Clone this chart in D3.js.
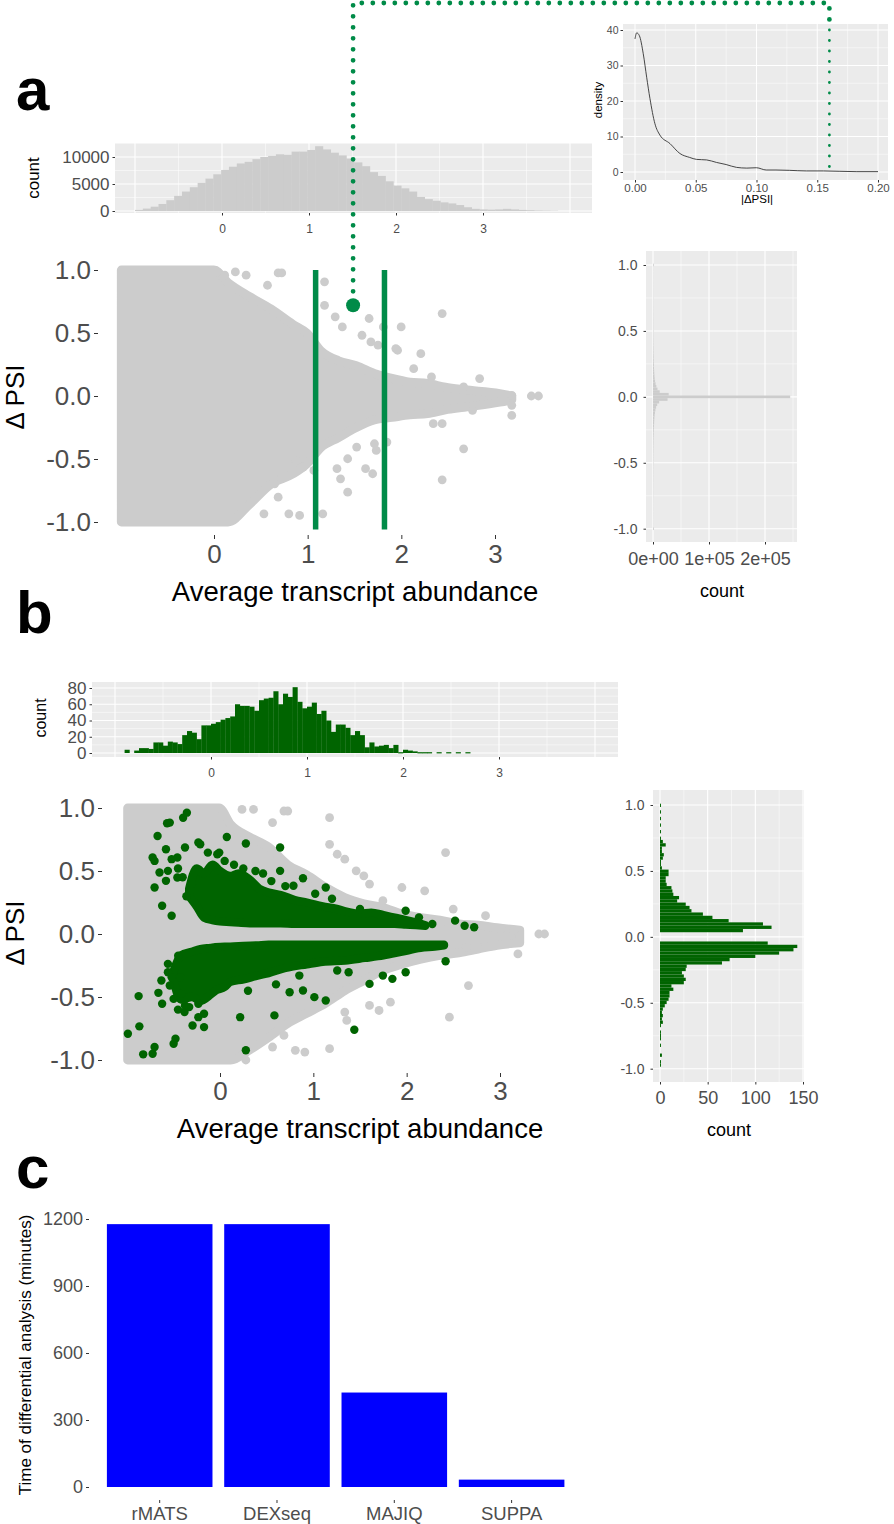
<!DOCTYPE html>
<html><head><meta charset="utf-8">
<script src="https://d3js.org/d3.v7.min.js"></script>
<style>html,body{margin:0;padding:0;background:#fff;}svg{display:block;}</style>
</head><body>
<script>
// ================= DATA =================
// Panel a – top marginal histogram (abundance), bin left edges, width 0.09
const histA_x0 = [-1.0,-0.91,-0.82,-0.73,-0.64,-0.55,-0.46,-0.37,-0.28,-0.19,-0.10,-0.01,0.08,0.17,0.26,0.35,0.44,0.53,0.62,0.71,0.80,0.89,0.98,1.07,1.16,1.25,1.34,1.43,1.52,1.61,1.70,1.79,1.88,1.97,2.06,2.15,2.24,2.33,2.42,2.51,2.60,2.69,2.78,2.87,2.96,3.05,3.14,3.23,3.32,3.41,3.50,3.59,3.68,3.77];
const histA_count = [200,450,800,1300,2000,2800,3600,4400,5200,6000,6800,7600,8200,8800,9100,9600,10000,10200,10500,10400,11000,11000,11300,12000,11400,10800,10300,9700,9000,8300,7200,6500,5500,4700,4200,3600,2600,2200,1900,1600,1400,1100,700,400,300,250,300,400,300,200,150,100,80,50];
const histA_binWidth = 0.09;
const histA_xTicks = [0,1,2,3];
const histA_yTicks = [0,5000,10000];

// Panel a – density inset of |ΔPSI|
const dens_x = [0.000,0.0014,0.0036,0.0068,0.0096,0.0123,0.0164,0.0205,0.0288,0.037,0.045,0.0507,0.059,0.067,0.075,0.0836,0.092,0.100,0.108,0.116,0.127,0.141,0.155,0.168,0.182,0.200];
const dens_y = [37.5,39.2,38.4,33.3,26.7,20.7,13.6,10.4,8.0,5.2,4.1,3.55,3.4,2.7,2.1,1.3,1.1,1.2,0.56,0.56,0.47,0.3,0.3,0.2,0.1,0.1];
const dens_xTicks = [0,0.05,0.10,0.15,0.20];
const dens_xLabels = ["0.00","0.05","0.10","0.15","0.20"];
const dens_yTicks = [0,10,20,30,40];
const dens_cutoff = 0.16;

// Panel a – main scatter: dense cloud envelope (x, upper, lower) + isolated points
const scatA_envX  = [-0.99,0.0,0.15,0.38,0.61,0.84,0.99,1.14,1.33,1.52,1.71,1.90,2.09,2.28,2.47,2.67,3.05,3.18];
const scatA_envUp = [1.0,1.0,0.90,0.79,0.69,0.57,0.50,0.36,0.28,0.24,0.18,0.14,0.11,0.10,0.07,0.05,0.02,0.0];
const scatA_envLo = [-1.0,-1.0,-1.0,-0.86,-0.70,-0.62,-0.54,-0.41,-0.33,-0.25,-0.19,-0.17,-0.15,-0.14,-0.11,-0.09,-0.05,-0.03];
const scatA_outX = [0.038,0.114,0.228,0.343,0.685,0.723,0.571,1.18,1.18,1.294,1.37,1.656,1.58,1.675,1.751,1.998,1.808,2.436,1.941,1.96,2.208,2.132,2.322,2.836,2.665,3.179,3.388,3.464,3.179,3.179,2.76,2.341,2.436,2.665,2.436,1.846,1.732,1.713,1.618,1.694,1.523,1.427,1.313,1.351,1.427,1.161,1.066,0.914,0.799,0.533,0.685,0.647,0.876,0.952];
const scatA_outY = [0.985,0.959,0.985,0.959,0.977,0.977,0.879,0.906,0.72,0.628,0.548,0.615,0.482,0.429,0.403,0.548,0.548,0.654,0.376,0.363,0.336,0.217,0.151,0.138,0.072,0.005,0,0,-0.074,-0.154,-0.114,-0.22,-0.22,-0.419,-0.665,-0.366,-0.432,-0.379,-0.577,-0.617,-0.405,-0.498,-0.577,-0.657,-0.763,-0.935,-0.591,-0.948,-0.935,-0.935,-0.803,-0.697,-0.511,-0.564];
const scatA_cutLines = [1.085,1.82];
const scatA_marker = {x:1.485, y:0.72};
const scat_xTicks = [0,1,2,3];
const scat_yTicks = [-1,-0.5,0,0.5,1];
const scat_yLabels = ["-1.0","-0.5","0.0","0.5","1.0"];

// Panel a – right marginal histogram of ΔPSI (bins of 0.02 from -1.00 to 1.00)
const histAR_count = [1500,
 500,520,480,510,530,540,520,560,550,580,570,600,590,620,610,640,650,660,680,690,700,720,740,760,
 780,800,830,860,900,940,980,1020,1080,
 1150,1250,1350,1450,1600,1750,
 1950,2200,2500,2900,3500,4300,5500,7500,11000,26000,
 245000,
 28000,12000,8000,6000,4600,3700,3000,2600,2200,2000,
 1800,1650,1500,1400,1300,1200,
 1100,1050,1000,950,900,860,820,790,760,
 740,720,700,690,680,660,650,640,620,610,600,590,570,560,550,540,530,520,510,500,500,490,480,470,
 1400];
const histAR_yStart = -1.0, histAR_binWidth = 0.02;
const histAR_xTicks = [0,100000,200000];
const histAR_xLabels = ["0e+00","1e+05","2e+05"];

// Panel b – top marginal histogram (significant events), bins of 0.05 starting at -0.9
const histB_count = [4,0,3,6,6,5,13,13,9,14,13,11,22,27,25,17,34,34,36,38,41,43,45,60,58,58,57,52,65,67,68,76,60,73,69,81,63,55,57,62,48,52,40,26,35,35,31,22,27,22,7,13,8,9,10,6,10,1,4,3,2,1,1,1,0,1,0,1,0,1,0,1];
const histB_start = -0.9, histB_binWidth = 0.05;
const histB_yTicks = [0,20,40,60,80];

// Panel b – main scatter: gray cloud envelope + isolated gray points
const scatB_envX  = [-0.99,-0.008,0.114,0.318,0.522,0.726,0.929,1.133,1.337,1.541,1.745,1.949,2.152,2.356,2.56,2.764,2.968,3.212];
const scatB_envUp = [1.0,1.0,0.87,0.77,0.69,0.55,0.47,0.37,0.29,0.24,0.21,0.16,0.13,0.11,0.08,0.07,0.05,0.03];
const scatB_envLo = [-1.0,-1.0,-1.0,-0.92,-0.82,-0.71,-0.63,-0.55,-0.45,-0.37,-0.29,-0.24,-0.20,-0.17,-0.15,-0.12,-0.09,-0.07];
const scatB_outX = [0.236,0.359,0.685,0.726,0.563,1.174,1.174,1.256,1.337,1.459,1.541,1.602,1.745,1.949,2.193,2.417,2.499,2.845,3.09,3.151,3.416,3.477,3.192,2.642,2.764,2.662,2.458,1.826,1.704,1.602,1.337,1.358,1.174,0.909,0.807,0.685,0.563,0.277];
const scatB_outY = [0.989,0.989,0.976,0.976,0.884,0.923,0.712,0.633,0.594,0.501,0.462,0.396,0.264,0.369,0.343,0.646,0.198,0.145,0.026,0.026,0,0,-0.158,-0.106,-0.106,-0.409,-0.660,-0.541,-0.607,-0.567,-0.620,-0.686,-0.910,-0.937,-0.923,-0.805,-0.897,-1.0];
// significant (green) events: dense arms + isolated points
const sigUp_x   = [-0.33,-0.25,-0.17,-0.08,0.0,0.11,0.2,0.32,0.42,0.52,0.65,0.8,0.93,1.1,1.25,1.34,1.5,1.62,1.75,1.87,1.99,2.1,2.2];
const sigUp_top = [0.36,0.52,0.48,0.55,0.50,0.46,0.48,0.43,0.36,0.33,0.31,0.27,0.25,0.22,0.20,0.18,0.16,0.17,0.15,0.13,0.11,0.09,0.07];
const sigUp_bot = [0.30,0.22,0.13,0.11,0.10,0.095,0.09,0.085,0.085,0.085,0.085,0.08,0.08,0.08,0.08,0.08,0.08,0.08,0.08,0.08,0.075,0.07,0.065];
const sigLo_x   = [-0.5,-0.42,-0.3,-0.21,-0.1,-0.05,0.05,0.11,0.25,0.4,0.52,0.7,0.93,1.1,1.34,1.55,1.75,1.95,2.15,2.3,2.4];
const sigLo_top = [-0.3,-0.17,-0.14,-0.12,-0.11,-0.105,-0.1,-0.1,-0.095,-0.09,-0.085,-0.085,-0.085,-0.085,-0.085,-0.085,-0.085,-0.085,-0.085,-0.085,-0.085];
const sigLo_bot = [-0.36,-0.52,-0.5,-0.53,-0.48,-0.45,-0.42,-0.38,-0.36,-0.33,-0.31,-0.27,-0.24,-0.22,-0.21,-0.19,-0.17,-0.14,-0.11,-0.1,-0.09];
const sigPts_x = [-0.987,-0.872,-0.864,-0.823,-0.722,-0.701,-0.660,-0.628,-0.620,-0.558,-0.558,-0.538,-0.518,-0.497,-0.477,-0.497,-0.448,-0.424,-0.416,-0.375,-0.294,-0.232,-0.171,-0.232,-0.171,0.216,0.277,0.583,0.746,0.889,1.011,1.133,1.439,1.602,1.745,1.847,2.417,1.989,1.378,1.256,
 -0.669,-0.567,-0.538,-0.395,-0.355,0.073,0.277,0.644,-0.722,-0.701,-0.579,-0.518,-0.457,-0.375,-0.232,-0.212,-0.130,-0.029,-0.008,-0.620,-0.518,-0.701,-0.579,-0.648,-0.558,-0.457,0.461,0.644,0.889,1.133,0.787,1.500,2.132,2.519,2.621,2.723,2.275,1.867,1.989,2.112,
 -0.40,-0.36,-0.30,-0.45,0.05,0.15,0.25,0.38,0.55,0.70,1.02,1.20,0.30,0.60,0.85,-0.38,-0.33,-0.45];
const sigPts_y = [-0.792,-0.493,-0.733,-0.955,-0.950,-0.897,-0.467,-0.369,-0.554,-0.237,-0.303,-0.409,-0.343,-0.515,-0.831,-0.871,-0.172,-0.343,-0.475,-0.567,-0.726,-0.554,-0.739,-0.660,-0.633,-0.660,-0.923,-0.646,-0.462,-0.449,-0.501,-0.528,-0.760,-0.396,-0.330,-0.356,-0.216,-0.303,-0.303,-0.290,
 0.778,0.879,0.884,0.923,0.963,0.770,0.718,0.686,0.607,0.580,0.673,0.594,0.607,0.686,0.726,0.712,0.646,0.633,0.646,0.224,0.145,0.369,0.422,0.488,0.501,0.449,0.480,0.501,0.443,0.369,0.383,0.198,0.132,0.106,0.066,0.053,0.079,0.106,0.185,0.079,
 0.45,0.30,0.40,0.52,0.58,0.55,0.52,0.50,0.42,0.38,0.32,0.28,-0.45,-0.40,-0.33,-0.62,-0.58,-0.60];

// Panel b – right marginal histogram of ΔPSI for significant events (bin centres, width 0.025)
const histBR_y = [0.0475,0.0725,0.0975,0.1225,0.1475,0.1725,0.1975,0.2225,0.2475,0.2725,0.2975,0.3225,0.3475,0.3725,0.3975,0.4225,0.4475,0.4725,0.4975,0.5225,0.5475,0.5725,0.5975,0.6225,0.6475,0.6725,0.6975,0.7225,0.7475,0.7975,0.8475,0.8975,0.9475,0.9975,
 -0.0475,-0.0725,-0.0975,-0.1225,-0.1475,-0.1725,-0.1975,-0.2225,-0.2475,-0.2725,-0.2975,-0.3225,-0.3475,-0.3725,-0.3975,-0.4225,-0.4475,-0.4725,-0.4975,-0.5225,-0.5475,-0.5725,-0.5975,-0.6225,-0.6475,-0.6725,-0.7225,-0.7475,-0.7725,-0.8225,-0.8975,-0.9475,-0.9725];
const histBR_count = [87,117,108,72,55,45,33,31,27,18,20,14,13,12,7,6,6,9,9,2,1,1,3,4,2,2,6,3,1,1,1,1,1,1,
 113,144,140,125,100,73,65,28,27,23,25,27,25,12,14,10,10,9,7,5,3,2,3,2,3,1,1,1,1,1,2,1,1];
const histBR_binWidth = 0.025;
const histBR_xTicks = [0,50,100,150];

// Panel c – run time per tool
const tools = ["rMATS","DEXseq","MAJIQ","SUPPA"];
const runMinutes = [1177,1177,423,33];
const runTicks = [0,300,600,900,1200];

// ================= DRAWING =================
const F = "'Liberation Sans', Arial, Helvetica, sans-serif";
const TXT = "#4D4D4D", BG = "#EBEBEB", GREY = "#CCCCCC", DKGREEN = "#006400", ANN = "#008B48";
const svg = d3.select("body").append("svg").attr("width",894).attr("height",1524);

function bg(x0,y0,x1,y1){ svg.append("rect").attr("x",x0).attr("y",y0).attr("width",x1-x0).attr("height",y1-y0).attr("fill",BG); }
function vgrid(sc, vals, y0, y1, w){ vals.forEach(v=>svg.append("line").attr("x1",sc(v)).attr("x2",sc(v)).attr("y1",y0).attr("y2",y1).attr("stroke","#fff").attr("stroke-width",w)); }
function hgrid(sc, vals, x0, x1, w){ vals.forEach(v=>svg.append("line").attr("y1",sc(v)).attr("y2",sc(v)).attr("x1",x0).attr("x2",x1).attr("stroke","#fff").attr("stroke-width",w)); }
function styleAxis(g, fs){
  g.select(".domain").remove();
  g.selectAll(".tick line").attr("stroke","#333").attr("stroke-width",1);
  g.selectAll(".tick text").attr("fill",TXT).style("font-size",fs+"px").style("font-family",F);
}
function axL(sc, vals, labels, x, fs, tick, pad){
  const g = svg.append("g").attr("transform",`translate(${x},0)`)
    .call(d3.axisLeft(sc).tickValues(vals).tickFormat((d,i)=>labels?labels[i]:d).tickSize(tick).tickPadding(pad));
  styleAxis(g,fs); return g;
}
function axB(sc, vals, labels, y, fs, tick, pad){
  const g = svg.append("g").attr("transform",`translate(0,${y})`)
    .call(d3.axisBottom(sc).tickValues(vals).tickFormat((d,i)=>labels?labels[i]:d).tickSize(tick).tickPadding(pad));
  styleAxis(g,fs); return g;
}
function text(t, x, y, fs, opts={}){
  const el = svg.append("text").text(t).attr("font-family",F).attr("font-size",fs)
    .attr("fill",opts.fill||"#000").attr("text-anchor",opts.anchor||"middle")
    .attr("font-weight",opts.bold?"bold":"normal");
  if(opts.rot){ el.attr("transform",`translate(${x},${y}) rotate(-90)`).attr("dominant-baseline","central"); }
  else { el.attr("x",x).attr("y",y); }
  return el;
}
function cloud(sx, sy, xs, up, lo, r, color){
  const pts = xs.map((x,i)=>({x:x,u:up[i],l:lo[i]}));
  const area = d3.area().x(d=>sx(d.x)).y0(d=>sy(d.l)).y1(d=>sy(d.u)).curve(d3.curveMonotoneX);
  svg.append("path").datum(pts).attr("d",area).attr("fill",color).attr("stroke",color)
    .attr("stroke-width",2*r).attr("stroke-linejoin","round");
}
function dots(sx, sy, xs, ys, r, color){
  svg.append("g").selectAll("circle").data(xs.map((x,i)=>[x,ys[i]])).join("circle")
    .attr("cx",d=>sx(d[0])).attr("cy",d=>sy(d[1])).attr("r",r).attr("fill",color);
}

// ---- panel letters ----
text("a",16,110,60,{bold:true,anchor:"start"});
text("b",16,633,60,{bold:true,anchor:"start"});
text("c",16,1188,60,{bold:true,anchor:"start"});

// ---- Panel a: top histogram ----
{
  const sx = d3.scaleLinear().domain([0,3]).range([222,483]);
  const sy = d3.scaleLinear().domain([0,10000]).range([211,157]);
  const x0=115,x1=592,y0=143,y1=213;
  bg(x0,y0,x1,y1);
  hgrid(sy,[2500,7500,12500],x0,x1,0.5);
  vgrid(sx,[-0.5,0.5,1.5,2.5,3.5],y0,y1,0.5);
  hgrid(sy,histA_yTicks,x0,x1,1.1);
  vgrid(sx,[-1,0,1,2,3,4],y0,y1,1.1);
  svg.append("g").selectAll("rect").data(histA_x0).join("rect")
    .attr("x",d=>sx(d)).attr("width",d=>sx(d+histA_binWidth)-sx(d)+0.3)
    .attr("y",(d,i)=>sy(histA_count[i])).attr("height",(d,i)=>sy(0)-sy(histA_count[i]))
    .attr("fill",GREY);
  axL(sy,histA_yTicks,null,x0,17,2.5,3);
  axB(sx,histA_xTicks,null,y1,12,2.5,9);
  text("count",33,178,17,{rot:true});
}

// ---- Panel a: main scatter ----
const sxA = d3.scaleLinear().domain([0,3]).range([214,495]);
const syA = d3.scaleLinear().domain([-1,1]).range([522,270]);
{
  cloud(sxA,syA,scatA_envX,scatA_envUp,scatA_envLo,4.4,GREY);
  dots(sxA,syA,scatA_outX,scatA_outY,4.4,GREY);
  scatA_cutLines.forEach(v=>svg.append("line").attr("x1",sxA(v)).attr("x2",sxA(v))
    .attr("y1",syA(1.0)).attr("y2",syA(-1.06)).attr("stroke",ANN).attr("stroke-width",5.5));
  axL(syA,scat_yTicks,scat_yLabels,98,26,4,3);
  axB(sxA,scat_xTicks,null,535,26,4,6);
  text("Average transcript abundance",355,601,27.5);
  text("Δ PSI",15,397,26,{rot:true});
}

// ---- Panel a: density inset ----
const sxD = d3.scaleLinear().domain([0,0.2]).range([635,878]);
const syD = d3.scaleLinear().domain([0,40]).range([172,30]);
{
  const x0=623,x1=888,y0=24,y1=180;
  bg(x0,y0,x1,y1);
  hgrid(syD,[5,15,25,35],x0,x1,0.5);
  vgrid(sxD,[0.025,0.075,0.125,0.175],y0,y1,0.5);
  hgrid(syD,dens_yTicks,x0,x1,1);
  vgrid(sxD,dens_xTicks,y0,y1,1);
  const line = d3.line().x((d,i)=>sxD(dens_x[i])).y((d,i)=>syD(dens_y[i])).curve(d3.curveMonotoneX);
  svg.append("path").datum(dens_x).attr("d",line).attr("fill","none").attr("stroke","#333").attr("stroke-width",0.9);
  axL(syD,dens_yTicks,null,x0,10.5,2.5,2);
  axB(sxD,dens_xTicks,dens_xLabels,y1,11.5,2.5,1);
  text("density",598,100,11.5,{rot:true});
  text("|ΔPSI|",757,203,11.5);
}

// ---- Panel a: right histogram ----
{
  const sx = d3.scaleLinear().domain([0,200000]).range([653,765]);
  const sy = d3.scaleLinear().domain([-1,1]).range([528.7,265]);
  const x0=646,x1=797,y0=251,y1=542;
  bg(x0,y0,x1,y1);
  hgrid(sy,[-0.75,-0.25,0.25,0.75],x0,x1,0.5);
  vgrid(sx,[50000,150000,250000],y0,y1,0.5);
  hgrid(sy,scat_yTicks,x0,x1,1.1);
  vgrid(sx,histAR_xTicks,y0,y1,1.1);
  svg.append("g").selectAll("rect").data(histAR_count).join("rect")
    .attr("x",sx(0))
    .attr("y",(d,i)=>sy(histAR_yStart+(i+0.5)*histAR_binWidth))
    .attr("height",(d,i)=>sy(histAR_yStart+(i-0.5)*histAR_binWidth)-sy(histAR_yStart+(i+0.5)*histAR_binWidth))
    .attr("width",d=>sx(d)-sx(0)).attr("fill",GREY);
  axL(sy,scat_yTicks,scat_yLabels,x0,14,2.5,6);
  axB(sx,histAR_xTicks,histAR_xLabels,y1,18,2.5,8);
  text("count",722,597,18);
}

// ---- annotation: dotted connector ----
{
  const xm = sxA(scatA_marker.x), ym = syA(scatA_marker.y), xc = sxD(dens_cutoff);
  svg.append("path").attr("d",`M${xm},${ym-14}L${xm},3L${xc},3L${xc},22`)
    .attr("fill","none").attr("stroke",ANN).attr("stroke-width",4.8)
    .attr("stroke-linecap","round").attr("stroke-dasharray","0 11");
  svg.append("path").attr("d",`M${xc},30L${xc},${syD(-1.3)}`)
    .attr("fill","none").attr("stroke",ANN).attr("stroke-width",2.8)
    .attr("stroke-linecap","round").attr("stroke-dasharray","0 10.5");
  svg.append("circle").attr("cx",xm).attr("cy",ym).attr("r",7).attr("fill",ANN);
}

// ---- Panel b: top histogram ----
{
  const sx = d3.scaleLinear().domain([0,3]).range([211,499]);
  const sy = d3.scaleLinear().domain([0,80]).range([753,688]);
  const x0=92,x1=618,y0=682,y1=757;
  bg(x0,y0,x1,y1);
  hgrid(sy,[10,30,50,70],x0,x1,0.5);
  vgrid(sx,[-0.5,0.5,1.5,2.5,3.5],y0,y1,0.5);
  hgrid(sy,histB_yTicks,x0,x1,1.1);
  vgrid(sx,[-1,0,1,2,3,4],y0,y1,1.1);
  svg.append("g").selectAll("rect").data(histB_count).join("rect")
    .attr("x",(d,i)=>sx(histB_start+i*histB_binWidth))
    .attr("width",(d,i)=>sx(histB_start+(i+1)*histB_binWidth)-sx(histB_start+i*histB_binWidth)+0.3)
    .attr("y",d=>sy(d)).attr("height",d=>d>0?Math.max(sy(0)-sy(d),1.2):0)
    .attr("fill",DKGREEN);
  axL(sy,histB_yTicks,null,x0,17,2.5,3);
  axB(sx,[0,1,2,3],null,y1,12,2.5,9);
  text("count",40,718,16,{rot:true});
}

// ---- Panel b: main scatter ----
{
  const sx = d3.scaleLinear().domain([0,3]).range([220,500]);
  const sy = d3.scaleLinear().domain([-1,1]).range([1060,808]);
  cloud(sx,sy,scatB_envX,scatB_envUp,scatB_envLo,4.4,GREY);
  dots(sx,sy,scatB_outX,scatB_outY,4.4,GREY);
  cloud(sx,sy,sigUp_x,sigUp_top,sigUp_bot,4.2,DKGREEN);
  cloud(sx,sy,sigLo_x,sigLo_top,sigLo_bot,4.2,DKGREEN);
  dots(sx,sy,sigPts_x,sigPts_y,4.2,DKGREEN);
  axL(sy,scat_yTicks,scat_yLabels,102,26,4,3);
  axB(sx,scat_xTicks,null,1073,26,4,5);
  text("Average transcript abundance",360,1138,27.5);
  text("Δ PSI",15,933,26,{rot:true});
}

// ---- Panel b: right histogram ----
{
  const sx = d3.scaleLinear().domain([0,150]).range([660,803]);
  const sy = d3.scaleLinear().domain([-1,1]).range([1068.7,805]);
  const x0=653,x1=804,y0=790,y1=1082;
  bg(x0,y0,x1,y1);
  hgrid(sy,[-0.75,-0.25,0.25,0.75],x0,x1,0.5);
  vgrid(sx,[25,75,125],y0,y1,0.5);
  hgrid(sy,scat_yTicks,x0,x1,1.1);
  vgrid(sx,histBR_xTicks,y0,y1,1.1);
  svg.append("g").selectAll("rect").data(histBR_y).join("rect")
    .attr("x",sx(0))
    .attr("y",d=>sy(d+histBR_binWidth/2))
    .attr("height",d=>sy(d-histBR_binWidth/2)-sy(d+histBR_binWidth/2))
    .attr("width",(d,i)=>sx(histBR_count[i])-sx(0)).attr("fill",DKGREEN);
  axL(sy,scat_yTicks,scat_yLabels,x0,14,2.5,6);
  axB(sx,histBR_xTicks,null,y1,18,2.5,7);
  text("count",729,1136,18);
}

// ---- Panel c: bar chart ----
{
  const sx = d3.scaleBand().domain(tools).range([89.3,582]).paddingInner(0.1).paddingOuter(0.15);
  const sy = d3.scaleLinear().domain([0,1200]).range([1487,1219]);
  svg.append("g").selectAll("rect").data(tools).join("rect")
    .attr("x",d=>sx(d)).attr("width",sx.bandwidth())
    .attr("y",(d,i)=>sy(runMinutes[i])).attr("height",(d,i)=>sy(0)-sy(runMinutes[i]))
    .attr("fill","#0000FF");
  axL(sy,runTicks,null,89,18,3,3);
  axB(sx,tools,null,1500,18.5,3,4);
  text("Time of differential analysis (minutes)",25,1355,17,{rot:true});
}
</script>
</body></html>
